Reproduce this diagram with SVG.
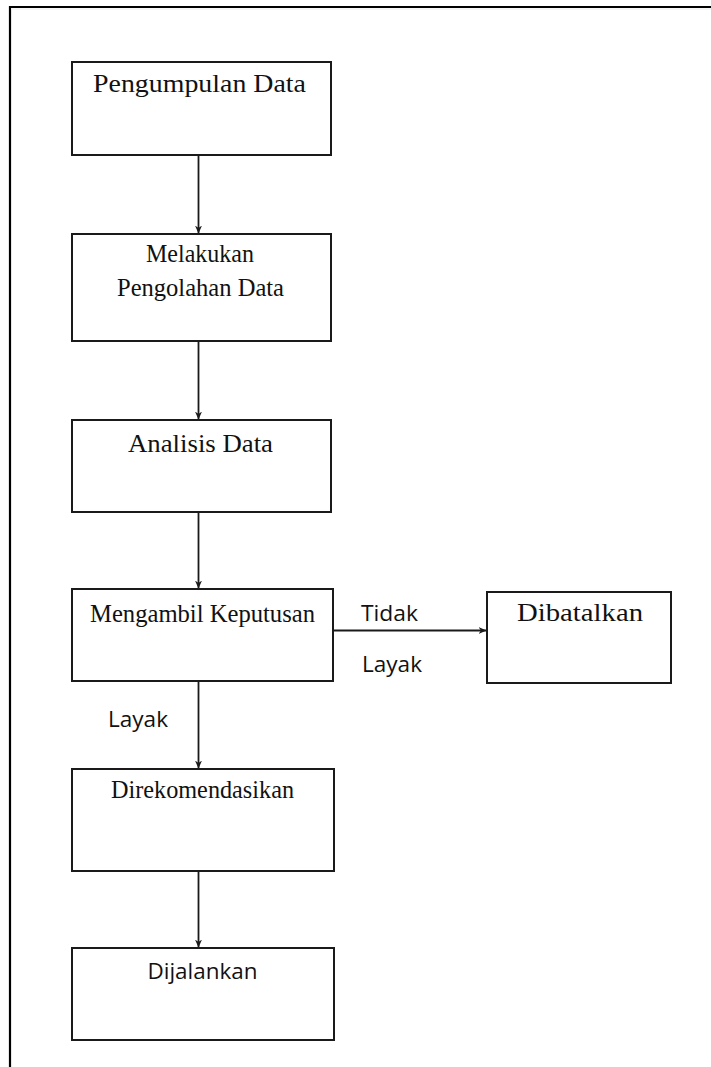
<svg xmlns="http://www.w3.org/2000/svg" width="711" height="1067" viewBox="0 0 711 1067">
<defs>
<style>
.box{fill:#fff;stroke:#1a1a1a;stroke-width:2}
.conn{stroke:#1a1a1a;stroke-width:1.8;fill:none}
.serif{font-family:"Liberation Serif","Times New Roman",serif;font-size:25.5px;fill:#111}
.sans{font-family:"Open Sans","Liberation Sans",sans-serif;font-size:21px;fill:#111}
</style>
<marker id="arr" viewBox="0 0 8 7" refX="7.5" refY="3.5" markerWidth="8" markerHeight="7" markerUnits="userSpaceOnUse" orient="auto">
<path d="M0,0 L8,3.5 L0,7 L2.5,3.5 z" fill="#1a1a1a"/>
</marker>
</defs>
<rect width="711" height="1067" fill="#fff"/>
<g id="frame">
<line x1="9" y1="7" x2="711" y2="7" stroke="#000" stroke-width="2.2"/>
<line x1="10" y1="6" x2="10" y2="1067" stroke="#000" stroke-width="2.2"/>
<line x1="11" y1="9" x2="711" y2="9" stroke="#e8ebef" stroke-width="1"/>
</g>
<g id="connectors">
<line class="conn" x1="198.5" y1="155" x2="198.5" y2="233" marker-end="url(#arr)"/>
<line class="conn" x1="198.5" y1="341" x2="198.5" y2="419" marker-end="url(#arr)"/>
<line class="conn" x1="198.5" y1="512" x2="198.5" y2="588" marker-end="url(#arr)"/>
<line class="conn" x1="198.5" y1="681" x2="198.5" y2="768" marker-end="url(#arr)"/>
<line class="conn" x1="198.5" y1="871" x2="198.5" y2="947" marker-end="url(#arr)"/>
<line class="conn" x1="333" y1="630.5" x2="486" y2="630.5" marker-end="url(#arr)"/>
<text class="sans" x="361" y="620.5" textLength="57" lengthAdjust="spacingAndGlyphs">Tidak</text>
<text class="sans" x="362" y="671.5" textLength="60" lengthAdjust="spacingAndGlyphs">Layak</text>
<text class="sans" x="108" y="726.5" textLength="60" lengthAdjust="spacingAndGlyphs">Layak</text>
</g>
<g id="pengumpulan">
<rect class="box" x="72" y="62" width="259" height="93"/>
<text class="serif" x="93" y="92" textLength="213" lengthAdjust="spacingAndGlyphs">Pengumpulan Data</text>
</g>
<g id="pengolahan">
<rect class="box" x="72" y="234" width="259" height="107"/>
<text class="serif" x="146" y="261.5" textLength="108" lengthAdjust="spacingAndGlyphs">Melakukan</text>
<text class="serif" x="117" y="296" textLength="167" lengthAdjust="spacingAndGlyphs">Pengolahan Data</text>
</g>
<g id="analisis">
<rect class="box" x="72" y="420" width="259" height="92"/>
<text class="serif" x="128" y="452" textLength="145" lengthAdjust="spacingAndGlyphs">Analisis Data</text>
</g>
<g id="keputusan">
<rect class="box" x="72" y="589" width="261" height="92"/>
<text class="serif" x="90" y="622" textLength="225" lengthAdjust="spacingAndGlyphs">Mengambil Keputusan</text>
</g>
<g id="dibatalkan">
<rect class="box" x="487" y="592" width="184" height="91"/>
<text class="serif" x="517" y="621" textLength="126" lengthAdjust="spacingAndGlyphs">Dibatalkan</text>
</g>
<g id="direkomendasikan">
<rect class="box" x="72" y="769" width="262" height="102"/>
<text class="serif" x="111" y="798" textLength="183" lengthAdjust="spacingAndGlyphs">Direkomendasikan</text>
</g>
<g id="dijalankan">
<rect class="box" x="72" y="948" width="262" height="92"/>
<text class="sans" x="147.5" y="978.5" textLength="110" lengthAdjust="spacingAndGlyphs">Dijalankan</text>
</g>
</svg>
